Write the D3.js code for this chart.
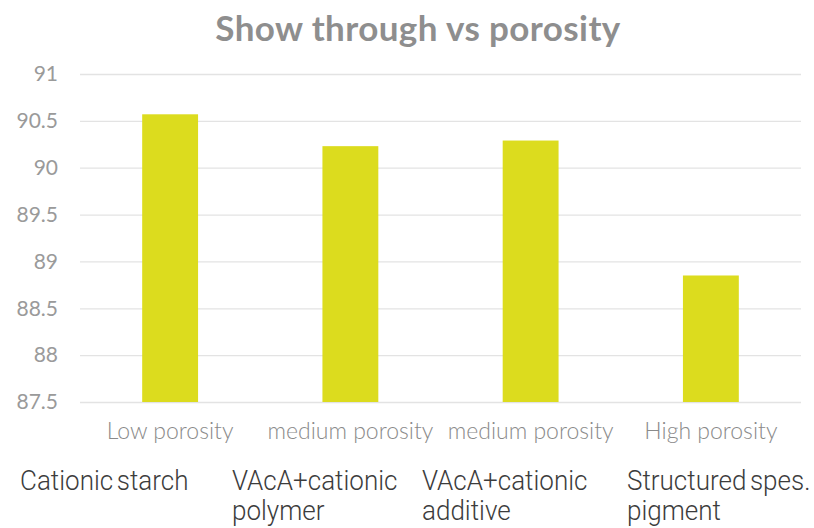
<!DOCTYPE html>
<html>
<head>
<meta charset="utf-8">
<script src="https://cdn.jsdelivr.net/npm/d3@7"></script>
<style>
  html, body { margin: 0; padding: 0; background: #fff; }
  svg { display: block; }
</style>
</head>
<body>
<svg id="chart" width="814" height="528"></svg>
<script>
// Porosity class of each coating and the measured show-through value
const categories = ["Low porosity", "medium porosity", "medium porosity", "High porosity"];
const values = [90.57, 90.23, 90.29, 88.85];
const yTicks = [87.5, 88, 88.5, 89, 89.5, 90, 90.5, 91];
const yTickLabels = ["87.5", "88", "88.5", "89", "89.5", "90", "90.5", "91"];
// Coating recipe written under each porosity class
const recipes = [
  ["Cationic starch"],
  ["VAcA+cationic", "polymer"],
  ["VAcA+cationic", "additive"],
  ["Structured spes.", "pigment"]
];
const recipeX = [20, 232, 422, 627];

const svg = d3.select("#chart");
const plot = { left: 80, right: 801, top: 74, bottom: 402 };

const x = d3.scaleBand()
  .domain(d3.range(categories.length))
  .range([plot.left, plot.right])
  .paddingInner(0.69)
  .paddingOuter(0.345);

const y = d3.scaleLinear()
  .domain([87.5, 91])
  .range([plot.bottom, plot.top]);

// Title
svg.append("text")
  .attr("x", 418)
  .attr("y", 41)
  .attr("text-anchor", "middle")
  .attr("font-family", "Lato, 'Open Sans', sans-serif")
  .attr("font-weight", 700)
  .attr("font-size", 35)
  .attr("letter-spacing", 0.4)
  .attr("fill", "#8e8e8e")
  .text("Show through vs porosity");

// Horizontal gridlines and value labels
const yAxis = d3.axisLeft(y)
  .tickValues(yTicks)
  .tickFormat((d, i) => yTickLabels[i])
  .tickSize(-(plot.right - plot.left))
  .tickPadding(22);

const yG = svg.append("g")
  .attr("transform", `translate(${plot.left},0)`)
  .call(yAxis);
yG.select(".domain").remove();
yG.selectAll(".tick line").attr("stroke", "#e3e3e3").attr("stroke-width", 1.3);
yG.selectAll(".tick text")
  .attr("font-family", "Lato, 'Open Sans', sans-serif")
  .attr("font-size", 21)
  .attr("fill", "#9a9a9a");

// Bars
svg.append("g")
  .selectAll("rect")
  .data(values)
  .join("rect")
  .attr("x", (d, i) => x(i))
  .attr("y", d => y(d))
  .attr("width", x.bandwidth())
  .attr("height", d => y(87.5) - y(d))
  .attr("fill", "#dcdc1e");

// Category labels
const xAxis = d3.axisBottom(x)
  .tickFormat(i => categories[i])
  .tickSize(0)
  .tickPadding(21);
const xG = svg.append("g")
  .attr("transform", `translate(0,${plot.bottom})`)
  .call(xAxis);
xG.select(".domain").remove();
xG.selectAll(".tick text")
  .attr("font-family", "Lato, 'Open Sans', sans-serif")
  .attr("font-weight", 300)
  .attr("font-size", 23)
  .attr("fill", "#8a8a8a");

// Recipe descriptions below the chart, set in a narrowed light face
const recipeG = svg.append("g")
  .attr("font-family", "Roboto, 'Open Sans', sans-serif")
  .attr("font-weight", 300)
  .attr("font-size", 28)
  .attr("word-spacing", -3)
  .attr("fill", "#3c3c3c");
recipes.forEach((lines, i) => {
  const t = recipeG.append("text")
    .attr("transform", `translate(${recipeX[i]},490) scale(0.93,1)`);
  lines.forEach((line, j) => {
    t.append("tspan")
      .attr("x", 0)
      .attr("dy", j === 0 ? 0 : 30)
      .text(line);
  });
});
</script>
</body>
</html>
